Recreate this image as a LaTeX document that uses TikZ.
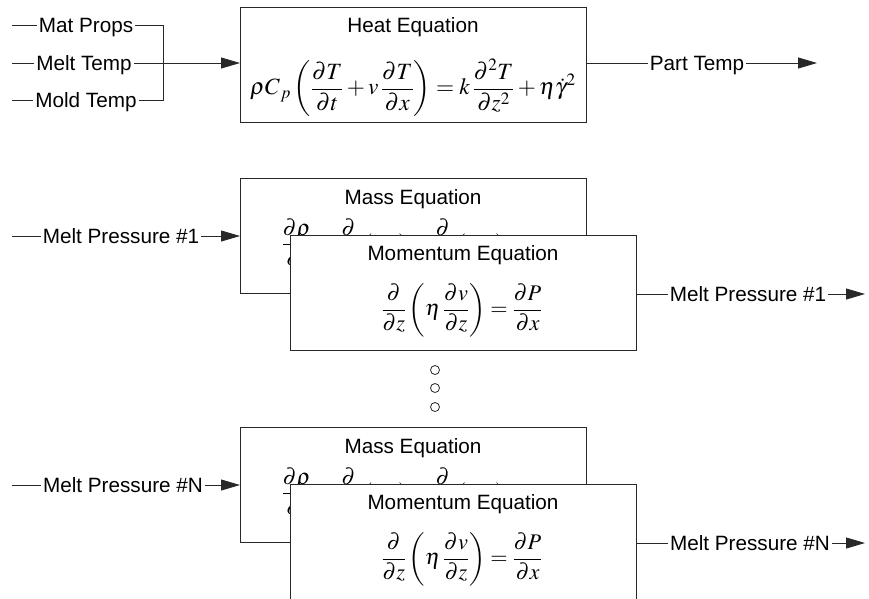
\documentclass[tikz,border=0pt]{standalone}
\usepackage{mathptmx}
\usepackage[no-math]{fontspec}
\setmainfont{Liberation Sans}
\usetikzlibrary{arrows.meta}
\definecolor{linec}{RGB}{40,40,40}
\begin{document}
\begin{tikzpicture}[x=1pt,y=-1pt,
  lbl/.style={font=\fontsize{20.7}{24}\selectfont, inner sep=2pt, text height=18.8pt, text depth=4pt},
  ttl/.style={font=\fontsize{20.7}{24}\selectfont, inner sep=0pt, text height=18.8pt, text depth=4pt},
  eqn/.style={font=\fontsize{22.3}{26}\selectfont, inner sep=0pt},
  bigeqn/.style={font=\fontsize{23.3}{27}\selectfont, inner sep=0pt},
  box/.style={draw=linec, line width=0.9pt, fill=white, minimum width=346pt, minimum height=115pt, anchor=north west, inner sep=0pt},
  wire/.style={draw=linec, line width=0.9pt},
  arr/.style={wire, -{Triangle[length=19pt,width=11pt]}},
  dotc/.style={circle, draw=linec, line width=0.8pt, minimum size=9pt, inner sep=0pt}
]
\useasboundingbox (0,0) rectangle (869,598);

% ---------- Heat equation ----------
\node[box] (heat) at (240,7) {};
\node[ttl] (heatT) at (413,25) {Heat Equation};
\node[bigeqn] (heatE) at (413,88) {$\displaystyle \rho C_{\,p}\left(\frac{\partial T}{\partial t}+v\,\frac{\partial T}{\partial x}\right)=k\,\frac{\partial^2 T}{\partial z^2}+\eta\dot{\gamma}^2$};

\node[lbl] (mat) at (86,25) {Mat Props};
\node[lbl] (mtemp) at (84,63) {Melt Temp};
\node[lbl] (mold) at (86,100) {Mold Temp};
\coordinate (matS) at (12,25);
\coordinate (mtempS) at (12,63);
\coordinate (moldS) at (12,100);
\coordinate (bT) at (163,25);
\coordinate (bB) at (163,100);
\draw[wire] (matS) -- (mat.west);
\draw[wire] (mtempS) -- (mtemp.west);
\draw[wire] (moldS) -- (mold.west);
\draw[wire] (mat.east) -- (bT) -- (bB) -- (mold.east);
\draw[arr] (mtemp.east) -- (heat.west |- mtemp.east);

\node[lbl] (part) at (697,63) {Part Temp};
\coordinate (partE) at (817,63);
\draw[wire] (heat.east |- part.west) -- (part.west);
\draw[arr] (part.east) -- (partE);

% ---------- Group 1 ----------
\node[box] (mass1) at (240,178) {};
\node[ttl] (mass1T) at (413,197) {Mass Equation};
\node[eqn] (mass1E) at (412,243) {$\displaystyle \frac{\partial\rho}{\partial t}+\frac{\partial}{\partial x}\left(\rho u\right)+\frac{\partial}{\partial z}\left(\rho w\right)=0$};
\node[box] (mom1) at (290,235) {};
\node[ttl] (mom1T) at (463,253) {Momentum Equation};
\node[eqn] (mom1E) at (462,310) {$\displaystyle \frac{\partial}{\partial z}\left(\eta\,\frac{\partial v}{\partial z}\right)=\frac{\partial P}{\partial x}$};

\node[lbl] (in1) at (121,236) {Melt Pressure \#1};
\coordinate (in1S) at (12,236);
\draw[wire] (in1S) -- (in1.west);
\draw[arr] (in1.east) -- (mass1.west |- in1.east);

\node[lbl] (out1) at (748,294) {Melt Pressure \#1};
\coordinate (out1E) at (865,294);
\draw[wire] (mom1.east |- out1.west) -- (out1.west);
\draw[arr] (out1.east) -- (out1E);

% ---------- dots ----------
\node[dotc] (d1) at (435,370) {};
\node[dotc] (d2) at (435,388) {};
\node[dotc] (d3) at (435,407) {};

% ---------- Group N ----------
\node[box] (massN) at (240,427) {};
\node[ttl] (massNT) at (413,446) {Mass Equation};
\node[eqn] (massNE) at (412,492) {$\displaystyle \frac{\partial\rho}{\partial t}+\frac{\partial}{\partial x}\left(\rho u\right)+\frac{\partial}{\partial z}\left(\rho w\right)=0$};
\node[box] (momN) at (290,484) {};
\node[ttl] (momNT) at (463,502) {Momentum Equation};
\node[eqn] (momNE) at (462,559) {$\displaystyle \frac{\partial}{\partial z}\left(\eta\,\frac{\partial v}{\partial z}\right)=\frac{\partial P}{\partial x}$};

\node[lbl] (inN) at (123,485) {Melt Pressure \#N};
\coordinate (inNS) at (12,485);
\draw[wire] (inNS) -- (inN.west);
\draw[arr] (inN.east) -- (massN.west |- inN.east);

\node[lbl] (outN) at (750,543) {Melt Pressure \#N};
\coordinate (outNE) at (865,543);
\draw[wire] (momN.east |- outN.west) -- (outN.west);
\draw[arr] (outN.east) -- (outNE);
\end{tikzpicture}
\end{document}
